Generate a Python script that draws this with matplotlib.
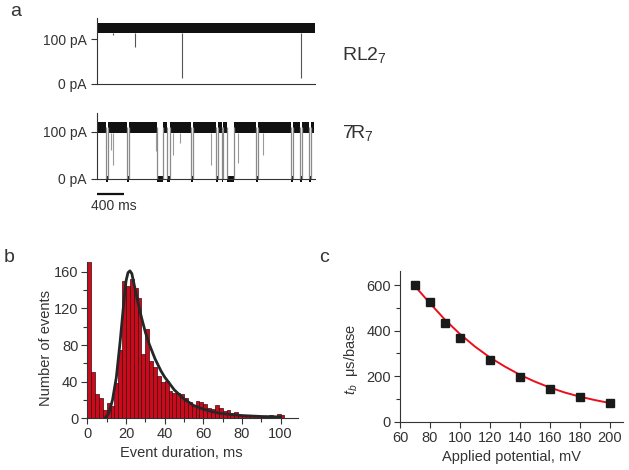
import matplotlib
matplotlib.use("Agg")
import matplotlib.pyplot as plt
from matplotlib.ticker import MultipleLocator

plt.rcParams['font.family'] = ['Liberation Sans', 'DejaVu Sans']
plt.rcParams['mathtext.fontset'] = 'custom'
plt.rcParams['mathtext.rm'] = 'Liberation Sans'
plt.rcParams['mathtext.it'] = 'Liberation Sans:italic'
TXT = '#333333'

# ---------------- data ----------------
# panel a, RL2_7 trace (time in ms, current in pA)
rl_open_band = [114, 136]
rl_span = [0, 3230]
rl_spike_times = [232, 568, 1254, 3027]
rl_spike_depths = [109, 83, 14, 14]

# panel a, 7R7 trace
r7_open_band = [97, 121]
r7_open_starts = [0, 168, 474, 973, 1081, 1427, 1788, 1872, 2030, 2380, 2908, 3042, 3166]
r7_open_ends = [128, 440, 894, 1042, 1388, 1758, 1847, 1931, 2351, 2874, 3007, 3141, 3215]
r7_spike_times = [207, 244, 874, 1126, 1225, 1693, 2089, 2455]
r7_spike_depths = [61, 29, 60, 50, 75, 29, 33, 50]
scale_bar_ms = 400

# panel b, histogram of event durations (2 ms bins)
bin_left = list(range(0, 102, 2))
counts = [171, 51, 27, 22, 9, 17, 13, 39, 75, 150, 144, 152, 142, 131, 70, 97, 63, 56,
          46, 40, 41, 30, 28, 28, 27, 22, 18, 15, 19, 18, 16, 11, 10, 14, 11, 8, 9, 6,
          7, 4, 4, 3, 3, 4, 3, 2, 2, 4, 3, 5, 4]
fit_b_x = [9, 11, 13, 15, 17, 19, 20, 21, 22, 23, 24, 26, 28, 30, 32, 35, 38, 40, 45,
           50, 55, 60, 65, 70, 75, 80, 90, 100]
fit_b_y = [0, 5, 20, 45, 85, 130, 150, 159, 161, 158, 148, 128, 110, 94, 81, 65, 52, 45,
           31, 21, 14, 10, 7, 5, 4, 3, 2, 1.5]

# panel c
potential = [70, 80, 90, 100, 120, 140, 160, 180, 200]
tb = [600, 525, 435, 369, 273, 196, 142, 108, 84]
fit_c_x = [70, 80, 90, 100, 110, 120, 130, 140, 150, 160, 170, 180, 190, 200]
fit_c_y = [595, 520, 448, 385, 330, 282, 242, 206, 176, 150, 128, 110, 95, 82]

W, H = 629, 470
fig = plt.figure(figsize=(W / 100, H / 100), dpi=100)


def ax_px(left, top, right, bottom):
    return fig.add_axes([left / W, 1 - bottom / H, (right - left) / W, (bottom - top) / H])


def style_trace(ax, ymax, ticks, labels):
    ax.set_xlim(rl_span)
    ax.set_ylim(-8, ymax)
    for s in ['top', 'right']:
        ax.spines[s].set_visible(False)
    ax.spines['bottom'].set_position(('data', 0))
    ax.spines['left'].set_bounds(0, ymax)
    for s in ['left', 'bottom']:
        ax.spines[s].set_color(TXT)
        ax.spines[s].set_linewidth(0.8)
    ax.set_xticks([])
    ax.set_yticks(ticks)
    ax.set_yticklabels(labels)
    ax.tick_params(axis='y', direction='out', length=4, width=0.8, colors=TXT,
                   labelsize=10, labelcolor=TXT)


# ---- panel a top ----
ax1 = ax_px(97, 18.3, 315, 87.6)
style_trace(ax1, 146, [0, 100], ['0 pA', '100 pA'])
ax1.fill_between(rl_span, [rl_open_band[0]] * 2, [rl_open_band[1]] * 2, color='#111111', lw=0)
ax1.vlines(rl_spike_times, rl_spike_depths, rl_open_band[0], color='#555555', lw=0.8)

# ---- panel a bottom ----
ax2 = ax_px(97, 112.9, 315, 182.5)
style_trace(ax2, 140, [0, 100], ['0 pA', '100 pA'])
mid = (r7_open_band[0] + r7_open_band[1]) / 2
for t0, t1 in zip(r7_open_starts, r7_open_ends):
    ax2.fill_between([t0, t1], [r7_open_band[0]] * 2, [r7_open_band[1]] * 2,
                     color='#111111', lw=0)
for t1, t0 in zip(r7_open_ends[:-1], r7_open_starts[1:]):
    ax2.vlines([t1, t0], 0, mid, color='#8a8a8a', lw=0.9)
    ax2.fill_between([t1, t0], [-6, -6], [6, 6], color='#111111', lw=0, clip_on=False)
ax2.vlines(r7_spike_times, r7_spike_depths, r7_open_band[0], color='#9a9a9a', lw=0.8)
ax2.plot([0, scale_bar_ms], [-32, -32], color='#111111', lw=1.6, clip_on=False,
         solid_capstyle='butt')
ax2.text(scale_bar_ms * 0.62, -58, f'{scale_bar_ms} ms', ha='center', va='center',
         fontsize=10, color=TXT, clip_on=False)

fig.text(342 / W, 1 - 55 / H, r'RL2$_7$', fontsize=14, color=TXT, va='center', ha='left')
fig.text(342 / W, 1 - 133 / H, r'7R$_7$', fontsize=14, color=TXT, va='center', ha='left')

# ---- panel b ----
ax3 = ax_px(87.4, 261.7, 298, 418.3)
ax3.bar(bin_left, counts, width=2, align='edge', color='#cc0a1e', edgecolor='#3a0a0a',
        linewidth=0.5)
ax3.plot(fit_b_x, fit_b_y, color='#262626', lw=2.0)
ax3.set_xlim(0, 109)
ax3.set_ylim(0, 171)
ax3.xaxis.set_major_locator(MultipleLocator(20))
ax3.xaxis.set_minor_locator(MultipleLocator(10))
ax3.yaxis.set_major_locator(MultipleLocator(40))
ax3.yaxis.set_minor_locator(MultipleLocator(20))
ax3.set_xticks(range(0, 101, 20))
ax3.set_xlabel('Event duration, ms', fontsize=10.5, color=TXT)
ax3.set_ylabel('Number of events', fontsize=10.5, color=TXT)
ax3.xaxis.set_label_coords(0.448, -0.175)
ax3.yaxis.set_label_coords(-0.165, 0.45)

# ---- panel c ----
ax4 = ax_px(400, 270.7, 623.3, 421.7)
ax4.plot(fit_c_x, fit_c_y, color='#e8101c', lw=1.4)
ax4.plot(potential, tb, 's', color='#1a1a1a', ms=5.2)
ax4.set_xlim(60, 209)
ax4.set_ylim(0, 663)
ax4.set_xticks(range(60, 201, 20))
ax4.yaxis.set_major_locator(MultipleLocator(200))
ax4.yaxis.set_minor_locator(MultipleLocator(100))
ax4.set_xlabel('Applied potential, mV', fontsize=10.5, color=TXT)
ax4.set_ylabel(r'$t_b$  μs/base', fontsize=10.5, color=TXT)
ax4.xaxis.set_label_coords(0.5, -0.19)
ax4.yaxis.set_label_coords(-0.18, 0.41)

for ax in (ax3, ax4):
    for s in ['top', 'right']:
        ax.spines[s].set_visible(False)
    for s in ['left', 'bottom']:
        ax.spines[s].set_color(TXT)
        ax.spines[s].set_linewidth(0.8)
    ax.tick_params(which='both', direction='out', width=0.8, colors=TXT,
                   labelsize=10.5, labelcolor=TXT, pad=2.5)
    ax.tick_params(which='major', length=4)
    ax.tick_params(which='minor', length=3)

fig.text(10 / W, 1 - 12 / H, 'a', fontsize=14, color=TXT, va='center', ha='left')
fig.text(4 / W, 1 - 257 / H, 'b', fontsize=14, color=TXT, va='center', ha='left')
fig.text(319 / W, 1 - 258 / H, 'c', fontsize=14, color=TXT, va='center', ha='left')

fig.savefig('out.png', dpi=100)
